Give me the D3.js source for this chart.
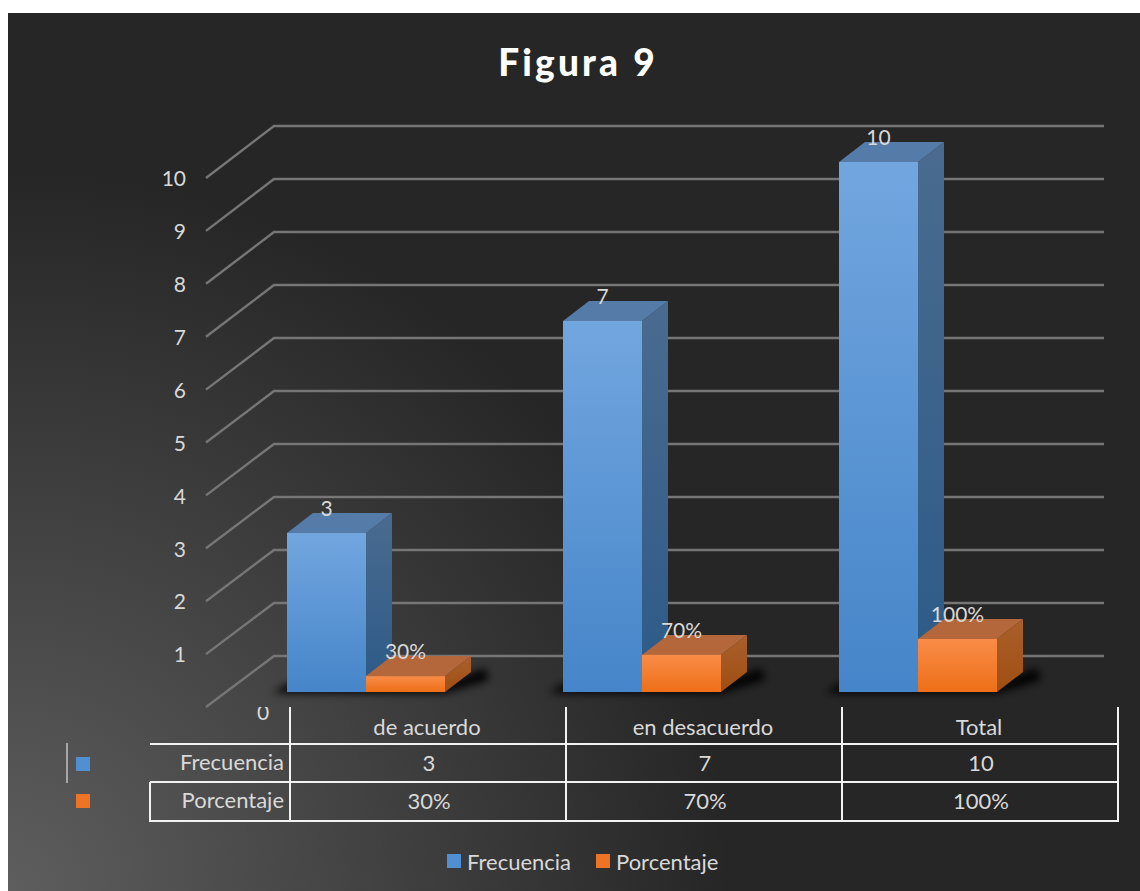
<!DOCTYPE html>
<html><head><meta charset="utf-8">
<style>html,body{margin:0;background:#fff}svg{display:block}text{font-family:Lato,"Open Sans",sans-serif}</style>
<script src="https://cdn.jsdelivr.net/npm/d3@7"></script></head><body>
<svg id="c" width="1140" height="891"></svg>
<script>
const title = "Figura 9";
const categories = ["de acuerdo", "en desacuerdo", "Total"];
const seriesNames = ["Frecuencia", "Porcentaje"];
const frecuencia = [3, 7, 10];
const porcentaje = [0.3, 0.7, 1];
const frecuenciaLabels = ["3", "7", "10"];
const porcentajeLabels = ["30%", "70%", "100%"];
const yTicks = [0,1,2,3,4,5,6,7,8,9,10];

const svg = d3.select("#c");
const defs = svg.append("defs");
const bg = defs.append("radialGradient").attr("id","bg").attr("gradientUnits","userSpaceOnUse")
  .attr("cx",8).attr("cy",891).attr("r",720);
[[0,"#5e5e5e"],[0.45,"#454545"],[1,"#262626"]].forEach(s=>bg.append("stop").attr("offset",s[0]).attr("stop-color",s[1]));
function vgrad(id,a,b){const g=defs.append("linearGradient").attr("id",id).attr("x1",0).attr("x2",0).attr("y1",0).attr("y2",1);
  g.append("stop").attr("offset",0).attr("stop-color",a);g.append("stop").attr("offset",1).attr("stop-color",b);}
vgrad("blueF","#72a6df","#4585c9");
vgrad("blueS","#4a6b8f","#2c5a88");
vgrad("orF","#f98c48","#ee6f17");
vgrad("orS","#a9602c","#a04e12");
defs.append("filter").attr("id","blur").attr("x","-20%").attr("y","-100%").attr("width","140%").attr("height","300%")
  .append("feGaussianBlur").attr("stdDeviation",4);
defs.append("clipPath").attr("id","zeroClip").append("rect").attr("x",200).attr("y",707).attr("width",120).attr("height",40);

svg.append("rect").attr("x",8).attr("y",13).attr("width",1132).attr("height",878).attr("fill","url(#bg)");

svg.append("text").text(title).attr("x",578).attr("y",76).attr("text-anchor","middle")
  .attr("fill","#fff").attr("font-size",37).attr("font-weight",900).attr("letter-spacing",3.2);

// scales
const y = d3.scaleLinear().domain([0,10]).range([692,162]);
const x = d3.scaleBand().domain(categories).range([290,1118]);
const inner = d3.scaleBand().domain(seriesNames).range([0,158]);
const depthX = 26, depthY = -20;
const gridBack = d3.scaleLinear().domain([0,10]).range([656,126]);
const gridFront = d3.scaleLinear().domain([0,10]).range([707,178]);

// gridlines
const grid = svg.append("g").attr("stroke","#767676").attr("stroke-width",2.4).attr("fill","none");
yTicks.forEach(t=>{
  grid.append("path").attr("d",d3.line()([[206,gridFront(t)],[274,gridBack(t)],[1104,gridBack(t)]]));
});

// y tick labels
const axisTicks = yTicks.filter(t=>t>0);
const axis = svg.append("g").attr("transform","translate(186,1)")
  .call(d3.axisLeft(gridFront).tickValues(axisTicks).tickSize(0).tickPadding(0).tickFormat(d3.format("d")));
axis.select(".domain").remove();
axis.selectAll("text").attr("fill","#d9d9d9").attr("font-size",21).attr("font-family","Lato");
svg.append("g").attr("clip-path","url(#zeroClip)").append("text").text(yTicks[0])
  .attr("x",263).attr("y",720).attr("text-anchor","middle").attr("fill","#d9d9d9").attr("font-size",21);

// bars
const bars = svg.append("g");
const off = -3;
categories.forEach((c,i)=>{
  const x0 = x(c)+off, x1 = x0+inner.bandwidth()*2;
  bars.append("path").attr("d",`M${x0-14},${y(0)+1}L${x1},${y(0)+1}L${x1+depthX+18},${y(0)-12}L${x1+depthX+14},${y(0)-24}L${x1},${y(0)-8}L${x0},${y(0)-8}Z`)
    .attr("fill","#000").attr("filter","url(#blur)");
  [[frecuencia[i],seriesNames[0],"blue"],[porcentaje[i],seriesNames[1],"or"]].forEach(([v,s,k])=>{
    const l = x(c)+off+inner(s), r = l+inner.bandwidth(), t = y(v), b = y(0);
    bars.append("path").attr("d",`M${r},${t}L${r+depthX},${t+depthY}L${r+depthX},${b+depthY}L${r},${b}Z`).attr("fill",`url(#${k}S)`);
    bars.append("path").attr("d",`M${l},${t}L${l+depthX},${t+depthY}L${r+depthX},${t+depthY}L${r},${t}Z`).attr("fill",k==="blue"?"#557ca8":"#b5673c");
    bars.append("rect").attr("x",l).attr("y",t).attr("width",r-l).attr("height",b-t).attr("fill",`url(#${k}F)`);
  });
});
// data labels
const labels = svg.append("g").attr("fill","#d9d9d9").attr("font-size",21).attr("text-anchor","middle");
categories.forEach((c,i)=>{
  [[frecuencia[i],frecuenciaLabels[i],seriesNames[0]],[porcentaje[i],porcentajeLabels[i],seriesNames[1]]].forEach(([v,lab,s])=>{
    labels.append("text").text(lab).attr("x",x(c)+off+inner(s)+inner.bandwidth()/2).attr("y",y(v)-24).attr("dy",".35em");
  });
});

// data table
const tbl = svg.append("g").attr("stroke","#f2f2f2").attr("stroke-width",2);
[744,782,821].forEach(yy=>tbl.append("line").attr("x1",150).attr("x2",1118).attr("y1",yy).attr("y2",yy));
tbl.append("line").attr("x1",150).attr("x2",150).attr("y1",782).attr("y2",822);
[...categories.map(c=>x(c)),x.range()[1]].forEach(xx=>tbl.append("line").attr("x1",xx).attr("x2",xx).attr("y1",707).attr("y2",822));
svg.append("line").attr("x1",67).attr("x2",67).attr("y1",743).attr("y2",783).attr("stroke","#a6a6a6").attr("stroke-width",2);

const tt = svg.append("g").attr("fill","#d9d9d9").attr("font-size",22);
categories.forEach((c,i)=>{
  const cx = x(c)+x.bandwidth()/2;
  tt.append("text").text(c).attr("x",cx-1).attr("y",735).attr("text-anchor","middle");
  tt.append("text").text(frecuenciaLabels[i]).attr("x",cx+1).attr("y",771).attr("text-anchor","middle");
  tt.append("text").text(porcentajeLabels[i]).attr("x",cx+1).attr("y",809).attr("text-anchor","middle");
});
seriesNames.forEach((s,i)=>{
  tt.append("text").text(s).attr("x",284).attr("y",[770,808][i]).attr("text-anchor","end");
  svg.append("rect").attr("x",76).attr("y",[757,794][i]).attr("width",14).attr("height",14).attr("fill",i?"#ee7425":"#4f8fd2");
});

// legend
[[447,467],[596,616]].forEach(([kx,tx],i)=>{
  svg.append("rect").attr("x",kx).attr("y",854).attr("width",14).attr("height",14).attr("fill",i?"#ee7425":"#4f8fd2");
  svg.append("text").text(seriesNames[i]).attr("x",tx).attr("y",870).attr("fill","#d9d9d9").attr("font-size",22);
});
</script></body></html>
